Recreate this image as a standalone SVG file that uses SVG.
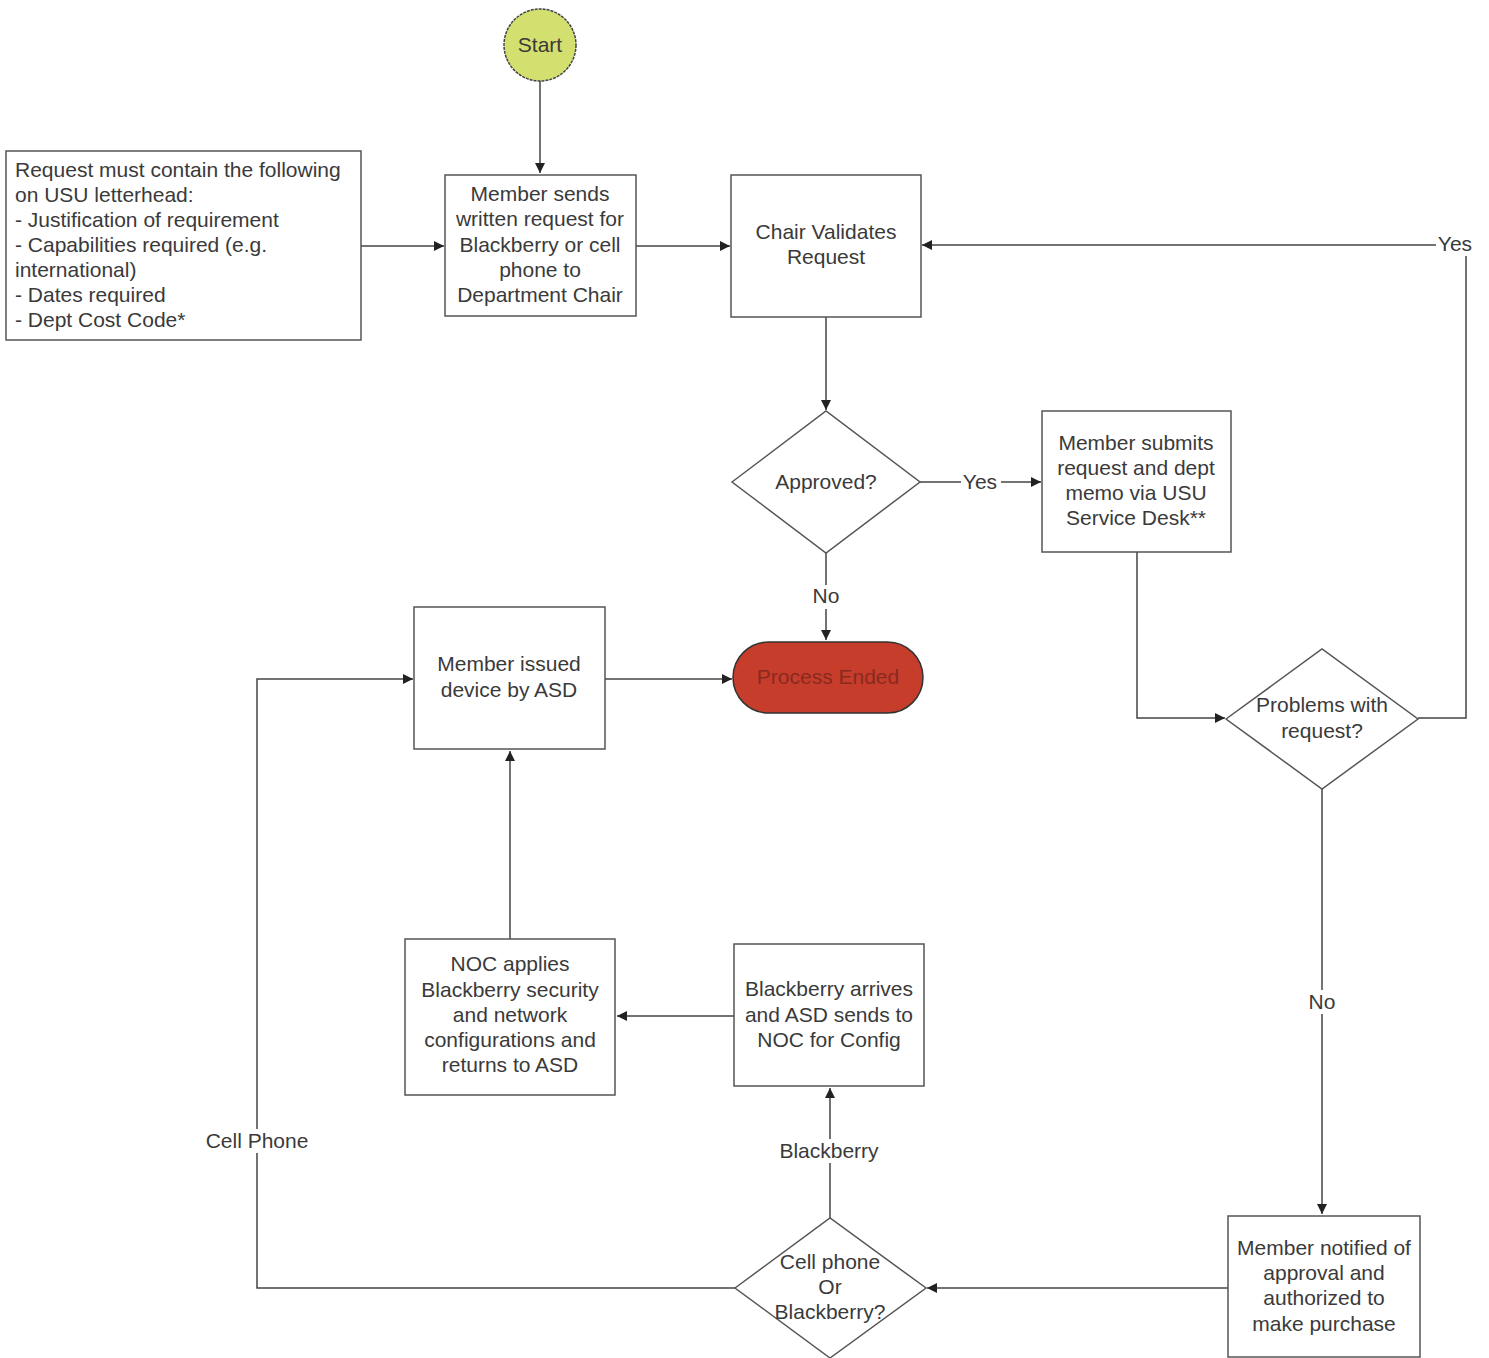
<svg xmlns="http://www.w3.org/2000/svg" width="1489" height="1358" viewBox="0 0 1489 1358">
<defs>
<marker id="ah" viewBox="0 0 10 10" refX="10" refY="5" markerWidth="10" markerHeight="10" markerUnits="userSpaceOnUse" orient="auto">
<path d="M0,0 L10,5 L0,10 z" fill="#222"/>
</marker>
</defs>
<style>
text{font-family:"Liberation Sans",Arial,sans-serif;font-size:21px;fill:#3a3a3a;}
.c{text-anchor:middle;}
.box{fill:#fff;stroke:#555;stroke-width:1.5;}
.ln{fill:none;stroke:#444;stroke-width:1.5;}
.lbl{fill:#fff;}
</style>
<rect width="1489" height="1358" fill="#fff"/>
<g id="connectors">
<path class="ln" d="M540,81 V173" marker-end="url(#ah)"/>
<path class="ln" d="M361,246 H444" marker-end="url(#ah)"/>
<path class="ln" d="M636,246 H730" marker-end="url(#ah)"/>
<path class="ln" d="M1418,718 H1466 V245 H922" marker-end="url(#ah)"/>
<path class="ln" d="M826,317 V410" marker-end="url(#ah)"/>
<path class="ln" d="M920,482 H1041" marker-end="url(#ah)"/>
<path class="ln" d="M826,553 V640" marker-end="url(#ah)"/>
<path class="ln" d="M605,679 H732" marker-end="url(#ah)"/>
<path class="ln" d="M1137,552 V718 H1225" marker-end="url(#ah)"/>
<path class="ln" d="M1322,789 V1214" marker-end="url(#ah)"/>
<path class="ln" d="M1228,1288 H927" marker-end="url(#ah)"/>
<path class="ln" d="M830,1218 V1088" marker-end="url(#ah)"/>
<path class="ln" d="M734,1016 H617" marker-end="url(#ah)"/>
<path class="ln" d="M510,939 V751" marker-end="url(#ah)"/>
<path class="ln" d="M735,1288 H257 V679 H413" marker-end="url(#ah)"/>
<rect class="lbl" x="1436" y="232" width="40" height="24"/>
<text x="1455" y="251" class="c">Yes</text>
<rect class="lbl" x="961" y="470" width="40" height="24"/>
<text x="980" y="489" class="c">Yes</text>
<rect class="lbl" x="810" y="585" width="32" height="24"/>
<text x="826" y="603" class="c">No</text>
<rect class="lbl" x="1306" y="990" width="32" height="24"/>
<text x="1322" y="1009" class="c">No</text>
<rect class="lbl" x="776" y="1139" width="106" height="24"/>
<text x="829" y="1158" class="c">Blackberry</text>
<rect class="lbl" x="202" y="1129" width="110" height="24"/>
<text x="257" y="1148" class="c">Cell Phone</text>
</g>
<g id="start">
<circle cx="540" cy="45" r="36" fill="#d3df6e" stroke="#444" stroke-width="1.5" stroke-dasharray="3,1"/>
<text x="540" y="52" class="c">Start</text>
</g>
<g id="request-note">
<rect class="box" x="6" y="151" width="355" height="189"/>
<text x="15" y="177">Request must contain the following</text>
<text x="15" y="202">on USU letterhead:</text>
<text x="15" y="227">- Justification of requirement</text>
<text x="15" y="252">- Capabilities required (e.g.</text>
<text x="15" y="277">international)</text>
<text x="15" y="302">- Dates required</text>
<text x="15" y="327">- Dept Cost Code*</text>
</g>
<g id="member-sends">
<rect class="box" x="445" y="175" width="191" height="141"/>
<text x="540" y="201" class="c">Member sends</text>
<text x="540" y="226" class="c">written request for</text>
<text x="540" y="252" class="c">Blackberry or cell</text>
<text x="540" y="277" class="c">phone to</text>
<text x="540" y="302" class="c">Department Chair</text>
</g>
<g id="chair-validates">
<rect class="box" x="731" y="175" width="190" height="142"/>
<text x="826" y="239" class="c">Chair Validates</text>
<text x="826" y="264" class="c">Request</text>
</g>
<g id="approved">
<polygon class="box" points="732,482 826,411 920,482 826,553"/>
<text x="826" y="489" class="c">Approved?</text>
</g>
<g id="member-submits">
<rect class="box" x="1042" y="411" width="189" height="141"/>
<text x="1136" y="450" class="c">Member submits</text>
<text x="1136" y="475" class="c">request and dept</text>
<text x="1136" y="500" class="c">memo via USU</text>
<text x="1136" y="525" class="c">Service Desk**</text>
</g>
<g id="process-ended">
<rect x="733" y="642" width="190" height="71" rx="35.5" fill="#c63d2c" stroke="#333" stroke-width="1.5"/>
<text x="828" y="684" class="c" style="fill:#8a2a1e">Process Ended</text>
</g>
<g id="member-issued">
<rect class="box" x="414" y="607" width="191" height="142"/>
<text x="509" y="671" class="c">Member issued</text>
<text x="509" y="697" class="c">device by ASD</text>
</g>
<g id="problems">
<polygon class="box" points="1226,719 1322,649 1418,719 1322,789"/>
<text x="1322" y="712" class="c">Problems with</text>
<text x="1322" y="738" class="c">request?</text>
</g>
<g id="member-notified">
<rect class="box" x="1228" y="1216" width="192" height="141"/>
<text x="1324" y="1255" class="c">Member notified of</text>
<text x="1324" y="1280" class="c">approval and</text>
<text x="1324" y="1305" class="c">authorized to</text>
<text x="1324" y="1331" class="c">make purchase</text>
</g>
<g id="cell-or-blackberry">
<polygon class="box" points="735,1288 830,1218 926,1288 830,1358"/>
<text x="830" y="1269" class="c">Cell phone</text>
<text x="830" y="1294" class="c">Or</text>
<text x="830" y="1319" class="c">Blackberry?</text>
</g>
<g id="blackberry-arrives">
<rect class="box" x="734" y="944" width="190" height="142"/>
<text x="829" y="996" class="c">Blackberry arrives</text>
<text x="829" y="1022" class="c">and ASD sends to</text>
<text x="829" y="1047" class="c">NOC for Config</text>
</g>
<g id="noc-applies">
<rect class="box" x="405" y="939" width="210" height="156"/>
<text x="510" y="971" class="c">NOC applies</text>
<text x="510" y="997" class="c">Blackberry security</text>
<text x="510" y="1022" class="c">and network</text>
<text x="510" y="1047" class="c">configurations and</text>
<text x="510" y="1072" class="c">returns to ASD</text>
</g>
</svg>
